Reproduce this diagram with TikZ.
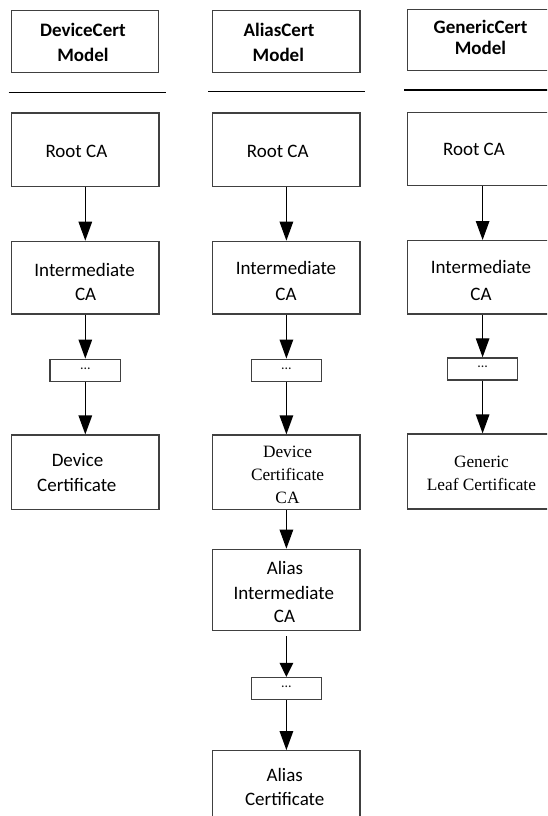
\documentclass[tikz,border=0pt]{standalone}
\usepackage{fontspec}
\setmainfont{Carlito}
\newfontfamily\serif{Liberation Serif}
\usetikzlibrary{arrows.meta}
\begin{document}
\begin{tikzpicture}[x=1pt,y=-1pt,
  box/.style={draw=black!75,line width=1.2pt,inner sep=0pt,minimum width=#1},
  box/.default=147.2pt,
  dots/.style={draw=black!75,line width=1.2pt,inner sep=0pt,minimum width=70.5pt,minimum height=22pt},
  t/.style={anchor=base,inner sep=0pt,text=black,font=\fontsize{19}{24}\selectfont},
  tb/.style={t,font=\fontsize{19}{24}\selectfont\bfseries},
  ts/.style={anchor=base,inner sep=0pt,text=black,font=\fontsize{17.3}{23}\selectfont\serif},
  td/.style={inner sep=0pt,text=black!90,font=\fontsize{14}{16}\selectfont},
  hline/.style={draw=black,line width=1.5pt},
  conn/.style={draw=black,line width=1.3pt,-{Triangle[length=19pt,width=13.5pt]}}]
\useasboundingbox (0,0) rectangle (547,816);
\clip (0,0) rectangle (547,816);

% ---------- DeviceCert column ----------
\node[box,minimum height=61.7pt] (dHead) at (85.1,41.35) {};
\node[tb] (dHead1) at (82.9,36.8) {DeviceCert};
\node[tb] (dHead2) at (82.9,61.2) {Model};
\draw[hline] (8.7,92.4) -- (165.7,92.4);

\node[box,minimum height=73.3pt] (dRoot) at (85.3,149.55) {};
\node[t] (dRootT) at (76.4,157.6) {Root CA};

\node[box,minimum height=72.6pt] (dInt) at (85.3,277.6) {};
\node[t] (dInt1) at (84.6,276.4) {Intermediate};
\node[t] (dInt2) at (85.6,300.8) {CA};

\node[dots] (dDots) at (85.3,370.2) {};
\node[td] (dDotsT) at (85.3,368.5) {...};

\node[box,minimum height=74.7pt] (dDev) at (85.3,472.35) {};
\node[t] (dDev1) at (77.5,466.8) {Device};
\node[t] (dDev2) at (76.8,491.2) {Certificate};

\draw[conn] (dRoot) -- (dInt);
\draw[conn] (dInt) -- (dDots);
\draw[conn] (dDots) -- (dDev);

% ---------- AliasCert column ----------
\node[box,minimum height=61.7pt] (aHead) at (286.4,41.35) {};
\node[tb] (aHead1) at (279,36.8) {AliasCert};
\node[tb] (aHead2) at (278.3,61.2) {Model};
\draw[hline] (208,91.4) -- (364.6,91.4);

\node[box,minimum height=73.3pt] (aRoot) at (286.4,149.55) {};
\node[t] (aRootT) at (277.7,157.6) {Root CA};

\node[box,minimum height=72.6pt] (aInt) at (286.4,277.6) {};
\node[t] (aInt1) at (286,274) {Intermediate};
\node[t] (aInt2) at (286,300.4) {CA};

\node[dots] (aDots) at (286.4,370.2) {};
\node[td] (aDotsT) at (286.4,368.5) {...};

\node[box,minimum height=74.7pt] (aDev) at (286.4,472.35) {};
\node[ts] (aDev1) at (287.5,457.1) {Device};
\node[ts] (aDev2) at (287.5,480.5) {Certificate};
\node[ts] (aDev3) at (287.5,503.9) {CA};

\node[box,minimum height=81.4pt] (aAInt) at (286.4,590) {};
\node[t] (aAInt1) at (285,574.3) {Alias};
\node[t] (aAInt2) at (283.8,599) {Intermediate};
\node[t] (aAInt3) at (284.5,622.7) {CA};

\node[dots] (aDots2) at (286.4,688.5) {};
\node[td] (aDots2T) at (286.4,686.8) {...};

\node[box,minimum height=80pt] (aAlias) at (286.4,790.7) {};
\node[t] (aAlias1) at (284.7,781.7) {Alias};
\node[t] (aAlias2) at (284.7,805.7) {Certificate};

\draw[conn] (aRoot) -- (aInt);
\draw[conn] (aInt) -- (aDots);
\draw[conn] (aDots) -- (aDev);
\draw[conn] (aDev) -- (aAInt);
\draw[conn,shorten <=5pt,-{Triangle[length=14pt,width=13.5pt]}] (aAInt) -- (aDots2);
\draw[conn] (aDots2) -- (aAlias);

% ---------- GenericCert column ----------
\node[box=150.2pt,minimum height=61pt] (gHead) at (482.6,40.3) {};
\node[tb] (gHead1) at (480.6,34) {GenericCert};
\node[tb] (gHead2) at (480.5,55) {Model};
\draw[hline] (404,90) -- (560,90);

\node[box=150.2pt,minimum height=73.3pt] (gRoot) at (482.6,148.85) {};
\node[t] (gRootT) at (474,155.1) {Root CA};

\node[box=150.2pt,minimum height=73.3pt] (gInt) at (482.6,277.25) {};
\node[t] (gInt1) at (481,273.4) {Intermediate};
\node[t] (gInt2) at (481,300.6) {CA};

\node[dots] (gDots) at (482.6,368.9) {};
\node[td] (gDotsT) at (482.6,367.2) {...};

\node[box=150.2pt,minimum height=75pt] (gLeaf) at (482.6,471.5) {};
\node[ts] (gLeaf1) at (481.4,467.6) {Generic};
\node[ts] (gLeaf2) at (481.4,490.9) {Leaf Certificate};

\draw[conn] (gRoot) -- (gInt);
\draw[conn] (gInt) -- (gDots);
\draw[conn] (gDots) -- (gLeaf);
\end{tikzpicture}
\end{document}
